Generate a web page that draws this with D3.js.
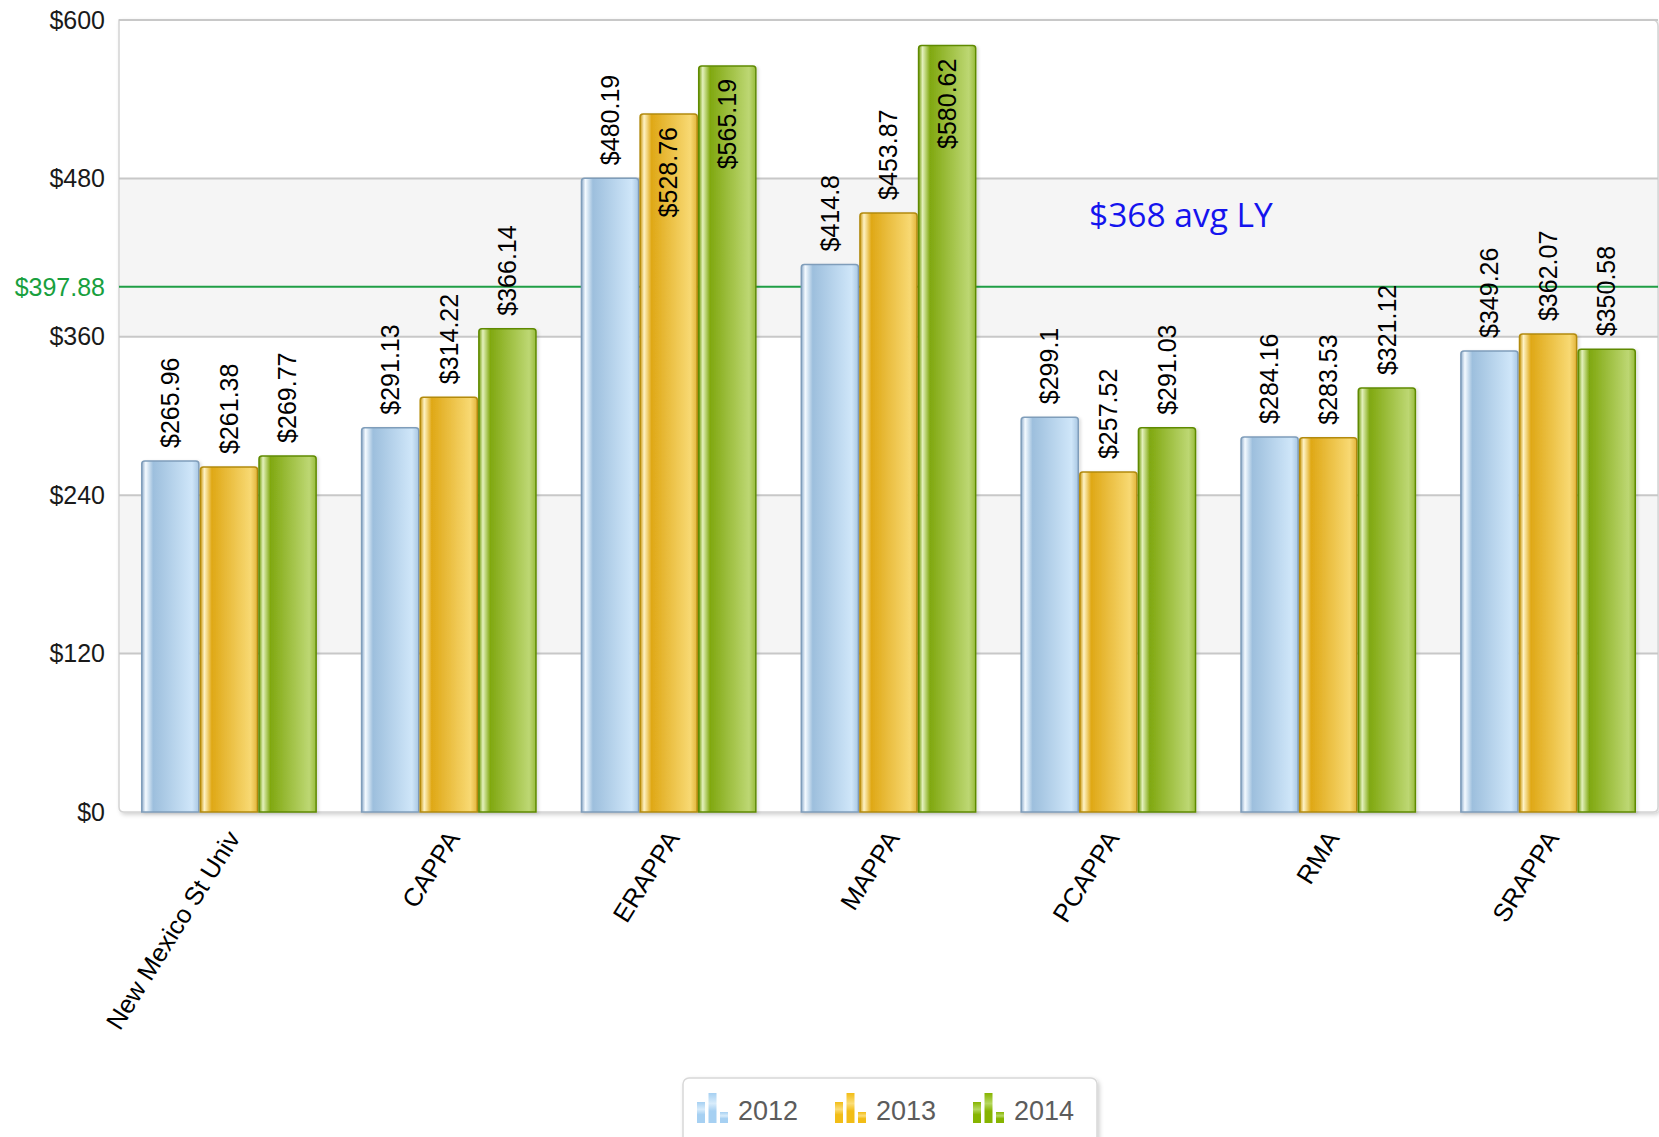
<!DOCTYPE html>
<html><head><meta charset="utf-8">
<script src="https://cdn.jsdelivr.net/npm/d3@7/dist/d3.min.js"></script>
<style>
html,body{margin:0;padding:0;background:#fff;}
svg{display:block;font-family:"Liberation Sans",Arial,Helvetica,sans-serif;}
</style></head>
<body><svg id="chart" width="1659" height="1137"></svg>
<script>
const categories = ["New Mexico St Univ","CAPPA","ERAPPA","MAPPA","PCAPPA","RMA","SRAPPA"];
const seriesNames = ["2012","2013","2014"];
const values2012 = [265.96, 291.13, 480.19, 414.8, 299.1, 284.16, 349.26];
const values2013 = [261.38, 314.22, 528.76, 453.87, 257.52, 283.53, 362.07];
const values2014 = [269.77, 366.14, 565.19, 580.62, 291.03, 321.12, 350.58];
const yTicks = [0, 120, 240, 360, 480, 600];
const refValue = 397.88;
const refLabel = "$397.88";
const noteText = "$368 avg LY";

const seriesValues = [values2012, values2013, values2014];

const W = 1659, H = 1137;
const pL = 119, pR = 1658, pT = 20, pB = 812;
const svg = d3.select("#chart");
const defs = svg.append("defs");

const palettes = {
  "2012": {edge:"#8eaccb", hi:"#f4faff", base:"#9dbfdd", light:"#cfe6f9", end:"#a9c7e2", stroke:"#7f9dba"},
  "2013": {edge:"#c8960e", hi:"#fff3c4", base:"#dfa816", light:"#f8d973", end:"#e2b43a", stroke:"#b38a0c"},
  "2014": {edge:"#6f9a08", hi:"#e4f1bc", base:"#80a810", light:"#bdd773", end:"#98bc3c", stroke:"#5f8a04"}
};
seriesNames.forEach(s => {
  const p = palettes[s];
  const g = defs.append("linearGradient").attr("id","grad"+s).attr("x1","0").attr("x2","1").attr("y1","0").attr("y2","0");
  [[0,p.edge],[0.07,p.hi],[0.2,p.base],[0.88,p.light],[1,p.end]].forEach(([o,c]) =>
    g.append("stop").attr("offset",o).attr("stop-color",c));
});
const legGrad = {
  "2012": ["#a6d0f2","#d8ecfb"],
  "2013": ["#f2bd16","#fbdd78"],
  "2014": ["#86b400","#b6d860"]
};
seriesNames.forEach(s => {
  const g = defs.append("linearGradient").attr("id","lg"+s).attr("x1","0").attr("x2","0").attr("y1","0").attr("y2","1");
  g.append("stop").attr("offset",0).attr("stop-color",legGrad[s][0]);
  g.append("stop").attr("offset",0.35).attr("stop-color",legGrad[s][1]);
  g.append("stop").attr("offset",0.6).attr("stop-color",legGrad[s][0]);
  g.append("stop").attr("offset",1).attr("stop-color",legGrad[s][0]);
});
const sh = defs.append("filter").attr("id","shadow").attr("x","-5%").attr("y","-5%").attr("width","110%").attr("height","115%");
sh.append("feDropShadow").attr("dx",2).attr("dy",2).attr("stdDeviation",2).attr("flood-color","#000").attr("flood-opacity",0.18);
const bsh = defs.append("filter").attr("id","barshadow").attr("x","-10%").attr("y","-5%").attr("width","130%").attr("height","110%");
bsh.append("feDropShadow").attr("dx",2).attr("dy",1).attr("stdDeviation",1.5).attr("flood-color","#000").attr("flood-opacity",0.12);

const y = d3.scaleLinear().domain([0,600]).range([pB, pT]);
const x0 = d3.scaleBand().domain(categories).range([pL, pR]).paddingInner(0.2).paddingOuter(0.1);
const x1 = d3.scaleBand().domain(seriesNames).range([0, x0.bandwidth()]).padding(0);

// plot background with shadow
svg.append("path")
  .attr("d", `M${pL},${pT} H${pR-6} Q${pR},${pT} ${pR},${pT+6} V${pB-5} Q${pR},${pB} ${pR-5},${pB} H${pL+5} Q${pL},${pB} ${pL},${pB-5} Z`)
  .attr("fill","#fff").attr("stroke","#d4d4d4").attr("stroke-width",1.5).attr("filter","url(#shadow)");

// alternating bands
const bands = yTicks.slice(0,-1).map((t,i)=>({from:t,to:yTicks[i+1],i})).filter(b => b.i % 2 === 1);
svg.append("g").selectAll("rect").data(bands).join("rect")
  .attr("x", pL+1).attr("width", pR-pL-2)
  .attr("y", d => y(d.to)).attr("height", d => y(d.from)-y(d.to))
  .attr("fill","#f5f5f5");

// gridlines
svg.append("g").selectAll("line").data(yTicks.filter(t => t>0)).join("line")
  .attr("x1", pL).attr("x2", pR).attr("y1", d=>y(d)).attr("y2", d=>y(d))
  .attr("stroke","#c8c8c8").attr("stroke-width",2);

// y axis
const yAxis = svg.append("g").attr("transform",`translate(${pL},0)`)
  .call(d3.axisLeft(y).tickValues(yTicks).tickFormat(d => "$"+d).tickSize(0).tickPadding(14));
yAxis.select(".domain").remove();
yAxis.selectAll("text").attr("font-size",25).attr("fill","#1a1a1a").attr("font-family","Liberation Sans, Arial, sans-serif");

// reference line
svg.append("line").attr("x1",pL).attr("x2",pR).attr("y1",y(refValue)).attr("y2",y(refValue))
  .attr("stroke","#1f9e45").attr("stroke-width",2);
svg.append("text").attr("x", pL-14).attr("y", y(refValue)).attr("dy","0.35em")
  .attr("text-anchor","end").attr("font-size",25).attr("fill","#18a03e").text(refLabel);

// note
svg.append("text").attr("x", 1089).attr("y", 227)
  .attr("font-family","'Open Sans', sans-serif").attr("font-size",33.5).attr("fill","#1414ee").text(noteText);

// bars
const data = categories.map((c,i) => ({cat:c, items: seriesNames.map((s,j)=>({s, v: seriesValues[j][i]}))}));
const groups = svg.append("g").selectAll("g").data(data).join("g")
  .attr("transform", d => `translate(${x0(d.cat)},0)`);

function barPath(x, yTop, w, h, r) {
  return `M${x},${yTop+h} V${yTop+r} Q${x},${yTop} ${x+r},${yTop} H${x+w-r} Q${x+w},${yTop} ${x+w},${yTop+r} V${yTop+h} Z`;
}
groups.selectAll("path").data(d => d.items).join("path")
  .attr("d", d => barPath(x1(d.s)+0.75, y(d.v), x1.bandwidth()-1.5, pB - y(d.v), 3))
  .attr("fill", d => `url(#grad${d.s})`)
  .attr("stroke", d => palettes[d.s].stroke).attr("stroke-width",1.5)
  .attr("filter","url(#barshadow)");

// labels
groups.selectAll("text").data(d => d.items).join("text")
  .attr("font-size",25).attr("fill","#000")
  .text(d => "$" + d.v)
  .each(function(d){
    const t = d3.select(this);
    const len = this.getComputedTextLength();
    const cx = x1(d.s) + x1.bandwidth()/2;
    const yt = y(d.v);
    let yy, anchor;
    if (yt - 13 - len < pT) { yy = yt + 13; anchor = "end"; }
    else { yy = yt - 13; anchor = "start"; }
    t.attr("text-anchor", anchor).attr("dy","0.35em")
     .attr("transform", `translate(${cx},${yy}) rotate(-90)`);
  });

// x axis labels
svg.append("g").selectAll("text").data(categories).join("text")
  .attr("font-size",25.5).attr("fill","#000").attr("text-anchor","end")
  .attr("transform", d => `translate(${x0(d)+x0.bandwidth()/2+12},${pB+26}) rotate(-58)`)
  .text(d => d);

// legend
const lg = svg.append("g");
lg.append("rect").attr("x",683).attr("y",1078).attr("width",414).attr("height",80).attr("rx",6)
  .attr("fill","#fff").attr("stroke","#d8d8d8").attr("stroke-width",1.5).attr("filter","url(#shadow)");
const legX = [697, 835, 973];
const li = lg.selectAll("g").data(seriesNames).join("g").attr("transform",(d,i)=>`translate(${legX[i]},0)`);
const iconBars = [{dx:0,h:21},{dx:11.5,h:30},{dx:23,h:11}];
li.each(function(s){
  const g = d3.select(this);
  g.selectAll("rect").data(iconBars).join("rect")
    .attr("x", b=>b.dx).attr("width",8).attr("y", b=>1123-b.h).attr("height", b=>b.h)
    .attr("fill",`url(#lg${s})`);
});
li.append("text").attr("x",41).attr("y",1120).attr("font-size",27).attr("fill","#5c5c5c").text(d=>d);
</script></body></html>
